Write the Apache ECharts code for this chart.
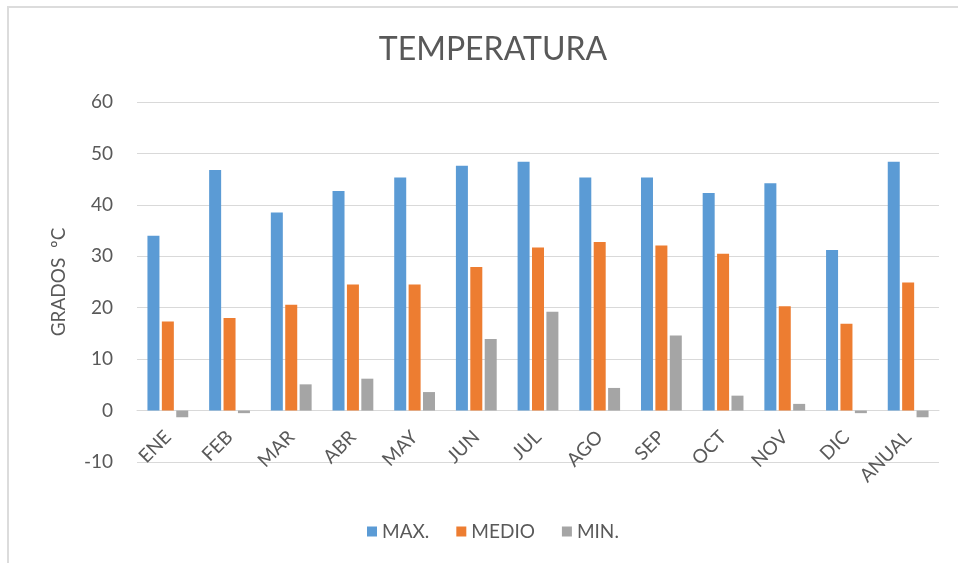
<!DOCTYPE html>
<html>
<head>
<meta charset="utf-8">
<script src="https://cdn.jsdelivr.net/npm/echarts@6/dist/echarts.min.js"></script>
<style>
  html, body { margin: 0; padding: 0; background: #fff; }
  #chart { width: 958px; height: 563px; }
</style>
</head>
<body>
<div id="chart"></div>
<script>
// Monthly temperatures (ºC): maximum, mean and minimum
const months = ['ENE', 'FEB', 'MAR', 'ABR', 'MAY', 'JUN', 'JUL', 'AGO', 'SEP', 'OCT', 'NOV', 'DIC', 'ANUAL'];
const maxTemp = [34.0, 46.8, 38.5, 42.7, 45.3, 47.6, 48.4, 45.3, 45.3, 42.3, 44.2, 31.2, 48.4];
const meanTemp = [17.3, 18.0, 20.6, 24.5, 24.5, 27.9, 31.7, 32.8, 32.1, 30.5, 20.3, 16.9, 24.9];
const minTemp = [-1.3, -0.5, 5.1, 6.2, 3.6, 13.9, 19.2, 4.4, 14.6, 2.9, 1.3, -0.5, -1.3];
const seriesNames = ['MAX.', 'MEDIO', 'MIN.'];
const yTicks = { min: -10, max: 60, interval: 10 };

const FONT = 'Lato, "Open Sans", sans-serif';
const TEXT = '#595959';
const GRID = '#d9d9d9';

const chart = echarts.init(document.getElementById('chart'), null, { renderer: 'canvas' });

const bar = (name, data, color) => ({
  name, type: 'bar', data,
  barWidth: 12, barGap: '20%',
  itemStyle: { color },
  emphasis: { disabled: true }
});

chart.setOption({
  animation: false,
  backgroundColor: '#fff',
  graphic: [{
    type: 'rect', silent: true,
    shape: { x: 8, y: 7, width: 960, height: 570 },
    style: { fill: 'none', stroke: '#dcdcdc', lineWidth: 2 }
  }],
  title: {
    text: 'TEMPERATURA',
    left: 488, top: 29, textAlign: 'center',
    textStyle: { fontFamily: FONT, fontSize: 32, fontWeight: 'normal', color: TEXT }
  },
  legend: {
    data: seriesNames,
    left: 362, top: 517,
    icon: 'rect', itemWidth: 10, itemHeight: 10, itemGap: 27,
    textStyle: { fontFamily: FONT, fontSize: 19, color: TEXT }
  },
  grid: { left: 137, right: 19, top: 102, bottom: 101, containLabel: false },
  xAxis: {
    type: 'category', data: months,
    axisLine: { onZero: true, lineStyle: { color: GRID, width: 1 } },
    axisTick: { show: false },
    axisLabel: { rotate: 45, margin: -28, interval: 0, fontFamily: FONT, fontSize: 19, color: TEXT }
  },
  yAxis: {
    type: 'value',
    min: yTicks.min, max: yTicks.max, interval: yTicks.interval,
    name: 'GRADOS  ºC', nameLocation: 'middle', nameGap: 69,
    nameTextStyle: { fontFamily: FONT, fontSize: 19, color: TEXT },
    axisLine: { show: false }, axisTick: { show: false },
    axisLabel: { margin: 24, fontFamily: FONT, fontSize: 19, color: TEXT },
    splitLine: { lineStyle: { color: GRID, width: 1 } }
  },
  series: [
    bar(seriesNames[0], maxTemp, '#5B9BD5'),
    bar(seriesNames[1], meanTemp, '#ED7D31'),
    bar(seriesNames[2], minTemp, '#A5A5A5')
  ]
});
</script>
</body>
</html>
